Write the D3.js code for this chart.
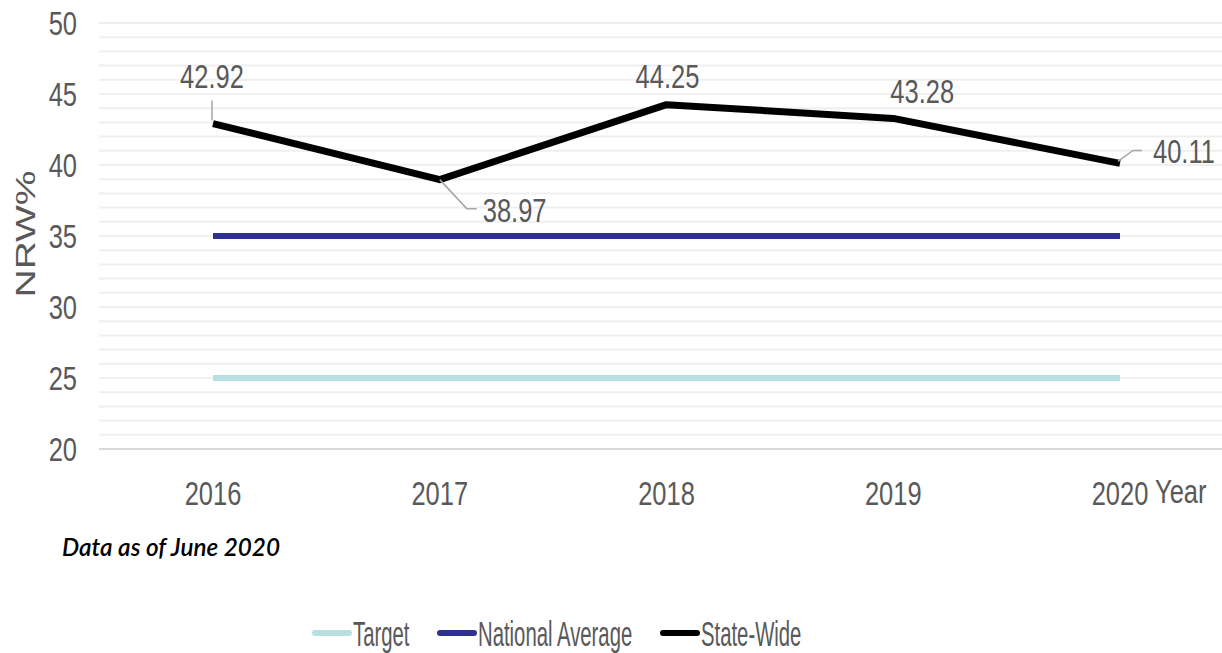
<!DOCTYPE html>
<html>
<head>
<meta charset="utf-8">
<script src="https://cdn.jsdelivr.net/npm/d3@7"></script>
<style>
  body { margin: 0; background: #fff; }
  text { font-family: "Liberation Sans", Arial, sans-serif; fill: #595959; }
</style>
</head>
<body>
<div id="chart"></div>
<script>
// 数据
const years = ["2016", "2017", "2018", "2019", "2020"];
const target = [25, 25, 25, 25, 25];
const nationalAvg = [35, 35, 35, 35, 35];
const stateWide = [42.92, 38.97, 44.25, 43.28, 40.11];
const yTicks = [20, 25, 30, 35, 40, 45, 50];

const W = 1222, H = 653;
const svg = d3.select("#chart").append("svg").attr("width", W).attr("height", H);

const x = d3.scalePoint().domain(years).range([213, 1120]);
const y = d3.scaleLinear().domain([20, 50]).range([449, 23]);

// 窄体字：用横向缩放模拟
function narrowText(g, px, py, str, size, sx, anchor) {
  return g.append("text")
    .attr("transform", `translate(${px},${py}) scale(${sx},1)`)
    .attr("text-anchor", anchor || "start")
    .attr("font-size", size)
    .text(str);
}

// 网格线，每1个单位一条
const grid = svg.append("g");
grid.selectAll("line")
  .data(d3.range(21, 51))
  .join("line")
  .attr("x1", 99).attr("x2", W)
  .attr("y1", d => y(d)).attr("y2", d => y(d))
  .attr("stroke", "#efefef")
  .attr("stroke-width", 2);
grid.append("line")
  .attr("x1", 99).attr("x2", W)
  .attr("y1", y(20)).attr("y2", y(20))
  .attr("stroke", "#d9d9d9").attr("stroke-width", 2);

// y 轴刻度
const yAxisG = svg.append("g");
yTicks.forEach(t => narrowText(yAxisG, 77, y(t) + 11.5, t, 34, 0.75, "end"));

// x 轴刻度
const xAxisG = svg.append("g");
years.forEach(yr => narrowText(xAxisG, x(yr), 505, yr, 34, 0.75, "middle"));
narrowText(svg, 1155, 503, "Year", 34, 0.75, "start");

svg.append("text")
  .attr("transform", `translate(35,234) rotate(-90)`)
  .attr("text-anchor", "middle")
  .attr("font-size", 28)
  .attr("textLength", 127)
  .attr("lengthAdjust", "spacingAndGlyphs")
  .text("NRW%");

const line = d3.line().x((d, i) => x(years[i])).y(d => y(d));

const series = [
  { name: "Target", values: target, color: "#b7e0e3", width: 6 },
  { name: "National Average", values: nationalAvg, color: "#2e3192", width: 6 },
  { name: "State-Wide", values: stateWide, color: "#000", width: 7 }
];

svg.append("g").selectAll("path")
  .data(series)
  .join("path")
  .attr("d", d => line(d.values))
  .attr("fill", "none")
  .attr("stroke", d => d.color)
  .attr("stroke-width", d => d.width)
  .attr("stroke-linejoin", "round");

// 数据标签和引线（相对数据点的偏移）
const labelPos = [
  { dx: -1, dy: -36, anchor: "middle", leader: [[-1, -3], [-1, -23]] },
  { dx: 43, dy: 42, anchor: "start", leader: [[0, 0], [27, 29], [37, 29]] },
  { dx: 1, dy: -17, anchor: "middle", leader: null },
  { dx: 29, dy: -15, anchor: "middle", leader: null },
  { dx: 33, dy: 0, anchor: "start", leader: [[-2, -2], [13, -13], [22, -13]] }
];

const labels = svg.append("g");
stateWide.forEach((v, i) => {
  const px = x(years[i]), py = y(v), p = labelPos[i];
  if (p.leader) {
    labels.append("path")
      .attr("d", d3.line()(p.leader.map(q => [px + q[0], py + q[1]])))
      .attr("fill", "none").attr("stroke", "#a6a6a6").attr("stroke-width", 1.5);
  }
  narrowText(labels, px + p.dx, py + p.dy, v.toFixed(2), 34, 0.75, p.anchor);
});

// 脚注
svg.append("text").attr("x", 62).attr("y", 556)
  .style("font-family", "Lato, 'Open Sans', sans-serif")
  .style("font-style", "italic").style("font-weight", "600")
  .style("fill", "#000")
  .attr("font-size", 24)
  .attr("textLength", 218)
  .attr("lengthAdjust", "spacingAndGlyphs")
  .text("Data as of June 2020");

// 图例
const legendX = [315, 440, 663];
const legend = svg.append("g");
series.forEach((s, i) => {
  legend.append("line")
    .attr("x1", legendX[i]).attr("x2", legendX[i] + 34)
    .attr("y1", 633).attr("y2", 633)
    .attr("stroke", s.color).attr("stroke-width", 6)
    .attr("stroke-linecap", "round");
  narrowText(legend, legendX[i] + 38, 646, s.name, 35, 0.58, "start");
});
</script>
</body>
</html>
